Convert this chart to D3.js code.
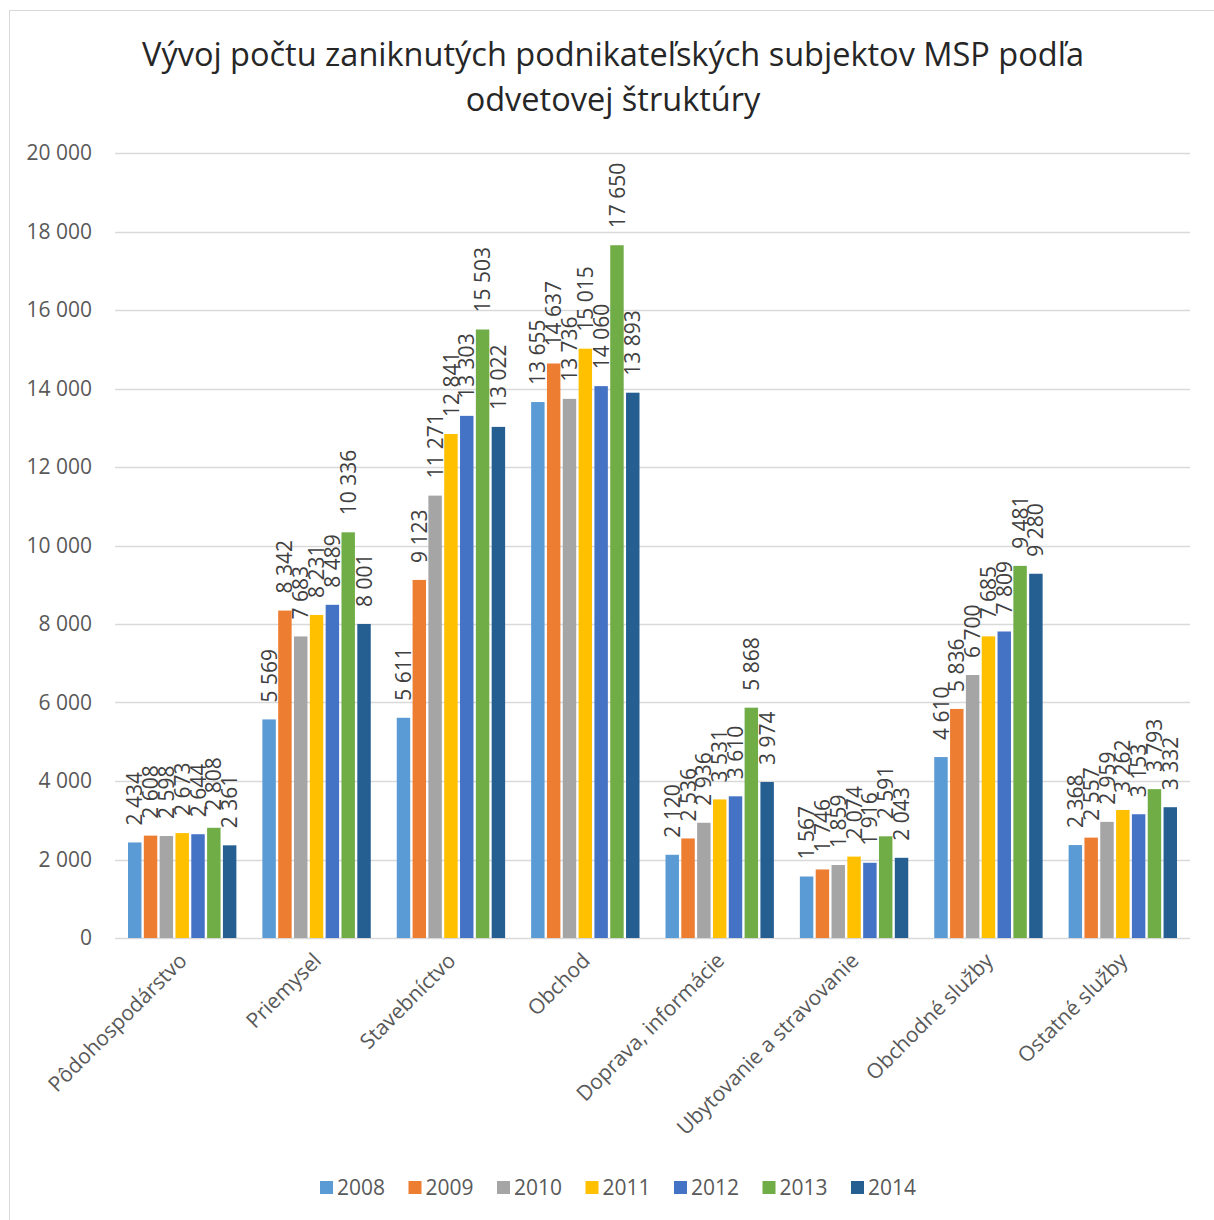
<!DOCTYPE html>
<meta charset="utf-8">
<script src="https://d3js.org/d3.v7.min.js"></script>
<style>
  * { margin: 0; padding: 0; }
  body { background: #fff; }
  text { font-family: "Open Sans", Helvetica, sans-serif; }
</style>
<body>
<div id="chart"></div>
<script>
// data
var categories = ["Pôdohospodárstvo", "Priemysel", "Stavebníctvo", "Obchod",
  "Doprava, informácie", "Ubytovanie a stravovanie", "Obchodné služby", "Ostatné služby"];
var years = ["2008", "2009", "2010", "2011", "2012", "2013", "2014"];
var v2008 = [2434, 5569, 5611, 13655, 2120, 1567, 4610, 2368];
var v2009 = [2608, 8342, 9123, 14637, 2536, 1746, 5836, 2557];
var v2010 = [2598, 7683, 11271, 13736, 2936, 1859, 6700, 2959];
var v2011 = [2673, 8231, 12841, 15015, 3531, 2074, 7685, 3262];
var v2012 = [2644, 8489, 13303, 14060, 3610, 1916, 7809, 3153];
var v2013 = [2808, 10336, 15503, 17650, 5868, 2591, 9481, 3793];
var v2014 = [2361, 8001, 13022, 13893, 3974, 2043, 9280, 3332];
var yTicks = [0, 2000, 4000, 6000, 8000, 10000, 12000, 14000, 16000, 18000, 20000];
var colors = ["#5B9BD5", "#ED7D31", "#A5A5A5", "#FFC000", "#4472C4", "#70AD47", "#255E91"];

var series = [v2008, v2009, v2010, v2011, v2012, v2013, v2014];

var W = 1214, H = 1220;
var fmt = function(v) { return d3.format(",")(v).replace(/,/g, " "); };

var svg = d3.select("#chart").append("svg")
  .attr("width", W).attr("height", H);

// chart border
svg.append("rect")
  .attr("x", 9.5).attr("y", 10.5)
  .attr("width", 1215).attr("height", 1220)
  .attr("fill", "#fff")
  .attr("stroke", "#d9d9d9");

// title
svg.append("text")
  .attr("x", 613).attr("text-anchor", "middle")
  .attr("fill", "#262626").style("font-size", "32.5px")
  .selectAll("tspan")
  .data(["Vývoj počtu zaniknutých podnikateľských subjektov MSP podľa", "odvetovej štruktúry"])
  .enter().append("tspan")
    .attr("x", 613)
    .attr("y", function(d, i) { return 66 + i * 45; })
    .text(function(d) { return d; });

var x0 = d3.scaleBand().domain(categories).range([115, 1190]).paddingInner(0).paddingOuter(0);
var x1 = d3.scaleBand().domain(years).range([13, x0.bandwidth() - 13]).paddingInner(0.15);
var y = d3.scaleLinear().domain([0, 20000]).range([938, 153]);

// gridlines
svg.append("g").selectAll("line")
  .data(yTicks)
  .enter().append("line")
    .attr("x1", 115).attr("x2", 1190)
    .attr("y1", function(d) { return Math.round(y(d)) + 0.5; })
    .attr("y2", function(d) { return Math.round(y(d)) + 0.5; })
    .attr("stroke", "#d9d9d9").attr("stroke-width", 1.5);

// y axis
var yAxis = svg.append("g")
  .attr("transform", "translate(92,0)")
  .call(d3.axisLeft(y).tickValues(yTicks).tickSize(0).tickPadding(0).tickFormat(fmt));
yAxis.select(".domain").remove();
yAxis.selectAll("text")
  .attr("fill", "#595959")
  .style("font-size", "21px")
  .style("font-family", "'Open Sans', Helvetica, sans-serif");

// bars
var groups = svg.append("g").selectAll("g")
  .data(categories)
  .enter().append("g")
    .attr("transform", function(d) { return "translate(" + x0(d) + ",0)"; });

groups.selectAll("rect")
  .data(function(d, i) { return years.map(function(yr, j) { return {year: yr, value: series[j][i], j: j}; }); })
  .enter().append("rect")
    .attr("x", function(d) { return x1(d.year); })
    .attr("width", x1.bandwidth())
    .attr("y", function(d) { return y(d.value); })
    .attr("height", function(d) { return y(0) - y(d.value); })
    .attr("fill", function(d) { return colors[d.j]; });

groups.selectAll("text")
  .data(function(d, i) { return years.map(function(yr, j) { return {year: yr, value: series[j][i], j: j}; }); })
  .enter().append("text")
    .attr("transform", function(d) {
      return "translate(" + (x1(d.year) + x1.bandwidth() / 2) + "," + (y(d.value) - 17) + ") rotate(-90)";
    })
    .attr("dy", "0.36em")
    .attr("text-anchor", "start")
    .attr("fill", "#404040")
    .style("font-size", "21px")
    .text(function(d) { return fmt(d.value); });

// category labels
svg.append("g").selectAll("text")
  .data(categories)
  .enter().append("text")
    .attr("transform", function(d) {
      return "translate(" + (x0(d) + x0.bandwidth() / 2 + 6) + ",962) rotate(-45)";
    })
    .attr("text-anchor", "end")
    .attr("fill", "#595959")
    .style("font-size", "21px")
    .text(function(d) { return d; });

// legend
var legend = svg.append("g").selectAll("g")
  .data(years)
  .enter().append("g")
    .attr("transform", function(d, i) { return "translate(" + (320 + i * 88.5) + ",1188)"; });
legend.append("rect")
  .attr("x", 0).attr("y", -7)
  .attr("width", 13).attr("height", 13)
  .attr("fill", function(d, i) { return colors[i]; });
legend.append("text")
  .attr("x", 17).attr("dy", "0.35em")
  .attr("fill", "#595959")
  .style("font-size", "21px")
  .text(function(d) { return d; });
</script>
</body>
